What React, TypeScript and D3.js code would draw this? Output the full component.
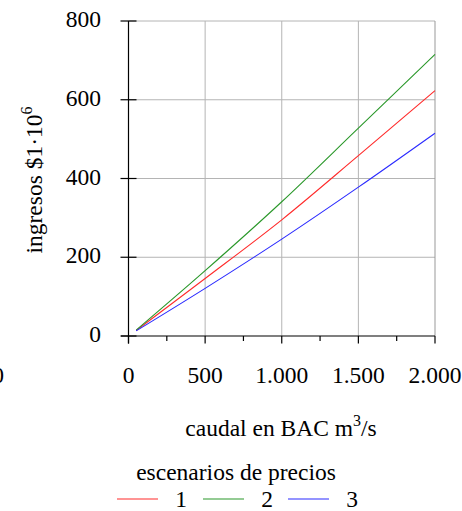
import React from "react";
import * as d3 from "d3";

const caudal = [50, 500, 1000, 1500, 2000];
const escenario1 = [14, 146, 295, 458, 623];
const escenario2 = [15, 166, 341, 528, 715];
const escenario3 = [13, 121, 246, 378, 515];
const xTicks = [0, 500, 1000, 1500, 2000];
const xMinorTicks = [250, 750, 1250, 1750];
const yTicks = [0, 200, 400, 600, 800];
const seriesNames = ["1", "2", "3"];
const seriesColors = ["#ff2a2a", "#2a982a", "#2a2aff"];

const W = 462;
const H = 511;
const font = "Liberation Serif, Times New Roman, DejaVu Serif, serif";
const FS = 23.5;

export default function App() {
  const x = d3.scaleLinear().domain([0, 2000]).range([128.5, 435]);
  const y = d3.scaleLinear().domain([0, 800]).range([336, 21]);
  const fmt = (v: number) => d3.format(",")(v).replace(/,/g, ".");
  const series = [escenario1, escenario2, escenario3];
  const line = d3
    .line<number>()
    .x((_, i) => x(caudal[i]))
    .y((d) => y(d))
    .curve(d3.curveCatmullRom);
  const legendX = [117, 203, 288];
  const ts: React.CSSProperties = { fontFamily: font, fontSize: FS };

  return (
    <svg
      width={W}
      height={H}
      style={{ position: "absolute", left: 0, top: 0, background: "#fff", fontFamily: font }}
    >
      {/* grid */}
      {yTicks.slice(1).map((t) => (
        <line key={"gy" + t} x1={x(0)} x2={x(2000)} y1={y(t)} y2={y(t)} stroke="#b4b4b4" strokeWidth={1} />
      ))}
      {xTicks.slice(1).map((t) => (
        <line
          key={"gx" + t}
          x1={x(t)}
          x2={x(t)}
          y1={y(0)}
          y2={y(800)}
          stroke={t === 2000 ? "#999" : "#b4b4b4"}
          strokeWidth={1}
        />
      ))}
      {/* series */}
      {series.map((s, i) => (
        <path key={"s" + i} d={line(s) || ""} fill="none" stroke={seriesColors[i]} strokeWidth={1.1} />
      ))}
      {/* axes */}
      <line x1={x(0)} x2={x(0)} y1={y(800)} y2={343.5} stroke="#000" strokeWidth={1.2} />
      <line x1={121} x2={x(2000)} y1={y(0)} y2={y(0)} stroke="#000" strokeWidth={1.2} />
      {yTicks.map((t) => (
        <line key={"yt" + t} x1={120.5} x2={136.5} y1={y(t)} y2={y(t)} stroke="#000" strokeWidth={1.2} />
      ))}
      {xTicks.map((t) => (
        <line key={"xt" + t} x1={x(t)} x2={x(t)} y1={y(0)} y2={343.5} stroke="#000" strokeWidth={1.2} />
      ))}
      {xMinorTicks.map((t) => (
        <line key={"xm" + t} x1={x(t)} x2={x(t)} y1={y(0)} y2={341} stroke="#000" strokeWidth={1.2} />
      ))}
      {/* tick labels */}
      {yTicks.map((t) => (
        <text key={"yl" + t} x={101} y={y(t) + 6} textAnchor="end" style={ts} fill="#000">
          {fmt(t)}
        </text>
      ))}
      {xTicks.map((t) => (
        <text key={"xl" + t} x={x(t)} y={383} textAnchor="middle" style={ts} fill="#000">
          {fmt(t)}
        </text>
      ))}
      <text x={4} y={383} textAnchor="end" style={ts} fill="#000">
        0
      </text>
      {/* axis titles */}
      <text transform={`translate(42,180) rotate(-90)`} textAnchor="middle" style={ts} fill="#000">
        ingresos $1·10
        <tspan style={{ fontSize: 16 }} dy={-10}>6</tspan>
      </text>
      <text x={281} y={436} textAnchor="middle" style={ts} fill="#000">
        caudal en BAC m<tspan style={{ fontSize: 16 }} dy={-10}>3</tspan>
        <tspan dy={10}>/s</tspan>
      </text>
      {/* legend */}
      <text x={236} y={480} textAnchor="middle" style={ts} fill="#000">
        escenarios de precios
      </text>
      {seriesNames.map((n, i) => (
        <g key={"lg" + i}>
          <line x1={legendX[i]} x2={legendX[i] + 41} y1={499} y2={499} stroke={seriesColors[i]} strokeWidth={1.1} />
          <text x={legendX[i] + 64} y={507} textAnchor="middle" style={ts} fill="#000">
            {n}
          </text>
        </g>
      ))}
    </svg>
  );
}
